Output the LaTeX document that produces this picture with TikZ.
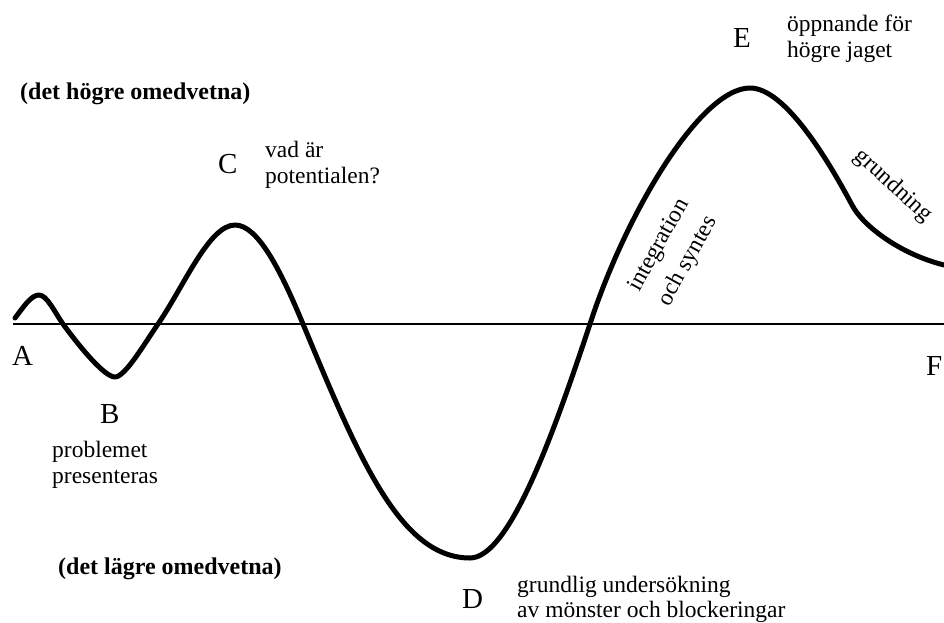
\documentclass[tikz,border=0pt]{standalone}
\usepackage{fontspec}
\setmainfont{Liberation Serif}
\begin{document}
\begin{tikzpicture}[x=1pt,y=-1pt,
  txt/.style={font=\fontsize{23.5}{25}\selectfont, inner sep=0pt, anchor=base west},
  btxt/.style={font=\fontsize{24}{26}\selectfont\bfseries, inner sep=0pt, anchor=base west},
  lbl/.style={font=\fontsize{29}{30}\selectfont, inner sep=0pt, anchor=base west},
  wave/.style={line width=5pt, line cap=round, line join=round},
  axisline/.style={line width=2.6pt}]
\useasboundingbox (0,0) rectangle (944,623);
\fill[white] (0,0) rectangle (944,623);
% axis
\coordinate (axL) at (13,324);
\coordinate (axR) at (944,324);
\draw[axisline] (axL) -- (axR);
% curve
\draw[wave] (15,318)
 .. controls (23,307.6) and (31,295) .. (39,295)
 .. controls (47,295) and (55,312.8) .. (63,324)
 .. controls (82,350) and (105,377) .. (115,377)
 .. controls (125,377) and (144,344.3) .. (158,324)
 .. controls (183.7,286.7) and (209,225) .. (235,225)
 .. controls (257.7,225) and (280.3,269.5) .. (303,324)
 .. controls (358.7,457.7) and (400,558) .. (470,558)
 .. controls (510,558) and (555,429) .. (590,324)
 .. controls (625,215.5) and (700,88) .. (750,88)
 .. controls (785,88) and (828,160) .. (852,205)
 .. controls (863,226) and (900,254) .. (944,265);
% letters
\node[lbl] (A) at (12,365) {A};
\node[lbl] (B) at (100,423) {B};
\node[lbl] (C) at (218,173) {C};
\node[lbl] (D) at (462,608) {D};
\node[lbl] (E) at (733,48) {E};
\node[lbl] (F) at (926,375) {F};
% texts
\node[btxt] (hi) at (20,100) {(det högre omedvetna)};
\node[btxt] (lo) at (58,574) {(det lägre omedvetna)};
\node[txt] (c1) at (265,157) {vad är};
\node[txt] (c2) at (265,183) {potentialen?};
\node[txt] (b1) at (52,457) {problemet};
\node[txt] (b2) at (52,483) {presenteras};
\node[txt] (e1) at (787,32) {öppnande för};
\node[txt] (e2) at (787,58) {högre jaget};
\node[txt] (d1) at (517,592) {grundlig undersökning};
\node[txt] (d2) at (517,617) {av mönster och blockeringar};
\node[txt, anchor=base, rotate=61] (i1) at (664,248) {integration};
\node[txt, anchor=base, rotate=61] (i2) at (693,264) {och syntes};
\node[txt, anchor=center, rotate=-42.5] (g1) at (893,186) {grundning};
\end{tikzpicture}
\end{document}
